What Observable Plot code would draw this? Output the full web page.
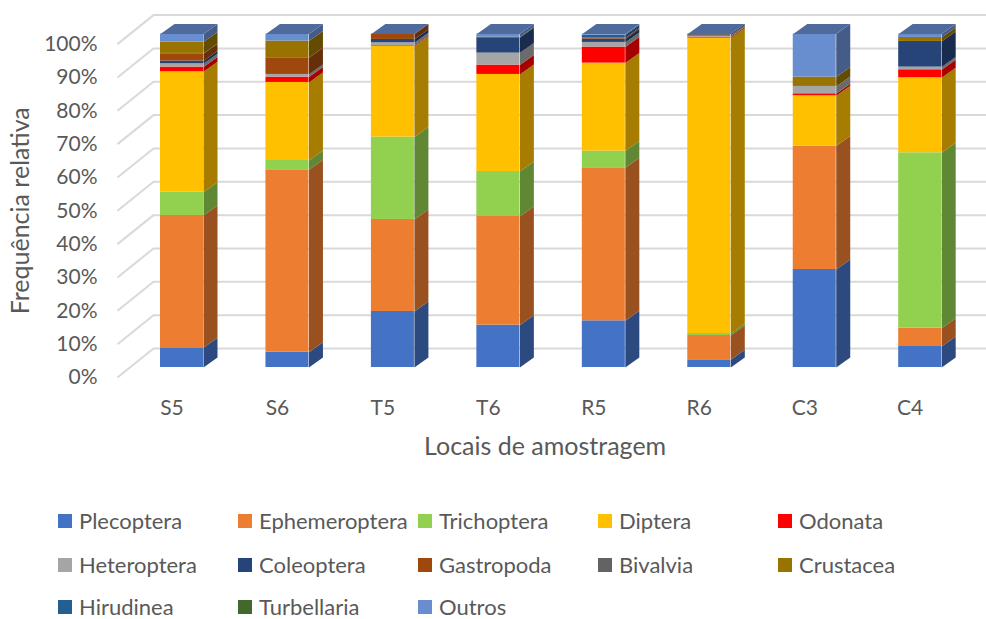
<!DOCTYPE html>
<html>
<head>
<meta charset="utf-8">
<script src="https://cdn.jsdelivr.net/npm/d3@7"></script>
<script src="https://cdn.jsdelivr.net/npm/@observablehq/plot@0.6"></script>
<style>
  html, body { margin: 0; padding: 0; background: #fff; overflow: hidden; }
  #chart svg { display: block; }
  #legend { position: relative; width: 986px; height: 119px; font-family: Lato, "Open Sans", sans-serif; font-size: 22px; color: #595959; }
  .item { position: absolute; display: flex; align-items: center; height: 26px; line-height: 26px; white-space: nowrap; }
  .sw { width: 14px; height: 14px; margin-right: 7px; flex: none; }
</style>
</head>
<body>
<div id="chart"></div>
<div id="legend"></div>
<script>
// ---- data ----
const categories = ["S5", "S6", "T5", "T6", "R5", "R6", "C3", "C4"];
const seriesNames = ["Plecoptera", "Ephemeroptera", "Trichoptera", "Diptera", "Odonata",
  "Heteroptera", "Coleoptera", "Gastropoda", "Bivalvia", "Crustacea",
  "Hirudinea", "Turbellaria", "Outros"];
const seriesColors = ["#4472C4", "#ED7D31", "#92D050", "#FFC000", "#FF0000",
  "#A5A5A5", "#264478", "#9E480E", "#636363", "#997300",
  "#255E91", "#43682B", "#698ED0"];

const plecoptera    = [5.9, 4.6, 16.8, 12.7, 14.0, 2.3, 29.4, 6.3];
const ephemeroptera = [39.7, 54.7, 27.6, 32.6, 45.9, 7.3, 37.0, 5.5];
const trichoptera   = [7.0, 2.8, 24.7, 13.5, 5.0, 0.6, 0, 52.6];
const diptera       = [36.1, 23.4, 27.2, 29.1, 26.4, 88.6, 15.1, 22.5];
const odonata       = [1.4, 1.6, 0.2, 2.8, 4.8, 0.3, 0.6, 2.4];
const heteroptera   = [1.0, 0.8, 0.9, 3.6, 1.4, 0.3, 2.2, 0.8];
const coleoptera    = [0.8, 0, 1.0, 4.6, 1.0, 0.2, 0, 7.7];
const gastropoda    = [2.2, 5.0, 1.6, 0, 0.4, 0, 0, 0];
const bivalvia      = [0.1, 0, 0, 0, 0, 0.4, 0, 0];
const crustacea     = [3.4, 5.0, 0, 0, 0, 0, 2.8, 1.2];
const hirudinea     = [0, 0, 0, 0, 0.8, 0, 0, 0];
const turbellaria   = [0, 0, 0, 0.2, 0, 0, 0, 0];
const outros        = [2.4, 2.1, 0, 0.9, 0.3, 0, 12.9, 1.0];

const seriesValues = [plecoptera, ephemeroptera, trichoptera, diptera, odonata,
  heteroptera, coleoptera, gastropoda, bivalvia, crustacea, hirudinea, turbellaria, outros];
const yTicks = d3.range(0, 101, 10);

// ---- layout / style constants (pixels) ----
const X_RANGE = [181.5, 919.7];   // centres of first/last bar front faces
const Y_RANGE = [367, 33.6];      // 0% and 100% on bar front faces
const kx = (X_RANGE[1] - X_RANGE[0]) / (categories.length - 1);
const ky = (Y_RANGE[0] - Y_RANGE[1]) / 100;
const BAR_HALF = 21.5 / kx;       // half bar width (data units)
const DEPTH_X = 14 / kx, DEPTH_Y = 10 / ky;  // bar depth
const px2x = p => (p - X_RANGE[0]) / kx;

// stacked segments
const segments = [];
categories.forEach((c, i) => {
  let cum = 0;
  seriesNames.forEach((s, k) => {
    const v = seriesValues[k][i];
    if (v > 0) segments.push({i, s, y0: cum, y1: cum + v, color: seriesColors[k]});
    cum += v;
  });
});
const totals = categories.map((c, i) => d3.sum(seriesValues, a => a[i]));

const shade = (c, f) => { const o = d3.rgb(c); return d3.rgb(o.r * f, o.g * f, o.b * f).formatHex(); };

// side faces (polygons)
const sidePts = segments.flatMap((d, j) => {
  const xr = d.i + BAR_HALF, col = shade(d.color, 0.65);
  return [
    {id: j, x: xr, y: d.y0, color: col},
    {id: j, x: xr + DEPTH_X, y: d.y0 + DEPTH_Y, color: col},
    {id: j, x: xr + DEPTH_X, y: d.y1 + DEPTH_Y, color: col},
    {id: j, x: xr, y: d.y1, color: col}
  ];
});
// top faces
const topCol = shade(seriesColors[seriesColors.length - 1], 0.75);
const topPts = categories.flatMap((c, i) => {
  const xl = i - BAR_HALF, xr = i + BAR_HALF, t = totals[i];
  return [
    {id: i, x: xl, y: t, color: topCol},
    {id: i, x: xr, y: t, color: topCol},
    {id: i, x: xr + DEPTH_X, y: t + DEPTH_Y, color: topCol},
    {id: i, x: xl + DEPTH_X, y: t + DEPTH_Y, color: topCol}
  ];
});

const WALL_BACK = 19 / ky, WALL_FRONT = 10 / ky;
const gridColor = "#D9D9D9";

const chart = Plot.plot({
  width: 986,
  height: 500,
  marginLeft: 117,
  marginRight: 0,
  marginTop: 0,
  marginBottom: 123,
  x: {domain: [0, categories.length - 1], range: X_RANGE},
  y: {domain: [0, 100], range: Y_RANGE},
  color: {type: "identity"},
  style: {fontFamily: "Lato, 'Open Sans', sans-serif", color: "#595959", background: "white"},
  marks: [
    // back wall gridlines
    Plot.ruleY(yTicks, {y: d => d + WALL_BACK, x1: px2x(153), x2: px2x(986), stroke: gridColor, strokeWidth: 2}),
    // side wall diagonals
    Plot.link(yTicks, {x1: px2x(117), y1: d => d - WALL_FRONT, x2: px2x(153), y2: d => d + WALL_BACK, stroke: gridColor, strokeWidth: 2}),
    // bar front faces
    Plot.rect(segments, {x1: d => d.i - BAR_HALF, x2: d => d.i + BAR_HALF, y1: "y0", y2: "y1", fill: "color"}),
    // bar side faces
    Plot.line(sidePts, {x: "x", y: "y", z: "id", fill: "color", stroke: null, curve: "linear-closed"}),
    // bar tops
    Plot.line(topPts, {x: "x", y: "y", z: "id", fill: "color", stroke: null, curve: "linear-closed"}),
    // axes
    Plot.axisY(yTicks, {tickSize: 0, tickPadding: 20, dy: 10, fontSize: 21, tickFormat: d => d + "%", label: null}),
    Plot.axisX(d3.range(categories.length), {tickSize: 0, tickPadding: 23, fontSize: 21, tickFormat: i => categories[i], label: null, dx: -10}),
    // titles
    Plot.text(["Locais de amostragem"], {x: 3.5, y: 0, dy: 79, dx: -6, fontSize: 25, text: d => d}),
    Plot.text(["Frequência relativa"], {frameAnchor: "left", y: 50, dx: -97, dy: 10, rotate: -90, textAnchor: "middle", fontSize: 25, text: d => d})
  ]
});
document.getElementById("chart").appendChild(chart);

// legend
const leg = document.getElementById("legend");
const rowCenters = [21, 65, 107];
seriesNames.forEach((s, k) => {
  const row = Math.floor(k / 5), col = k % 5;
  const it = document.createElement("div");
  it.className = "item";
  it.style.left = (58 + col * 180) + "px";
  it.style.top = (rowCenters[row] - 13) + "px";
  const sw = document.createElement("span");
  sw.className = "sw";
  sw.style.background = seriesColors[k];
  const tx = document.createElement("span");
  tx.textContent = s;
  it.appendChild(sw); it.appendChild(tx);
  leg.appendChild(it);
});
</script>
</body>
</html>
